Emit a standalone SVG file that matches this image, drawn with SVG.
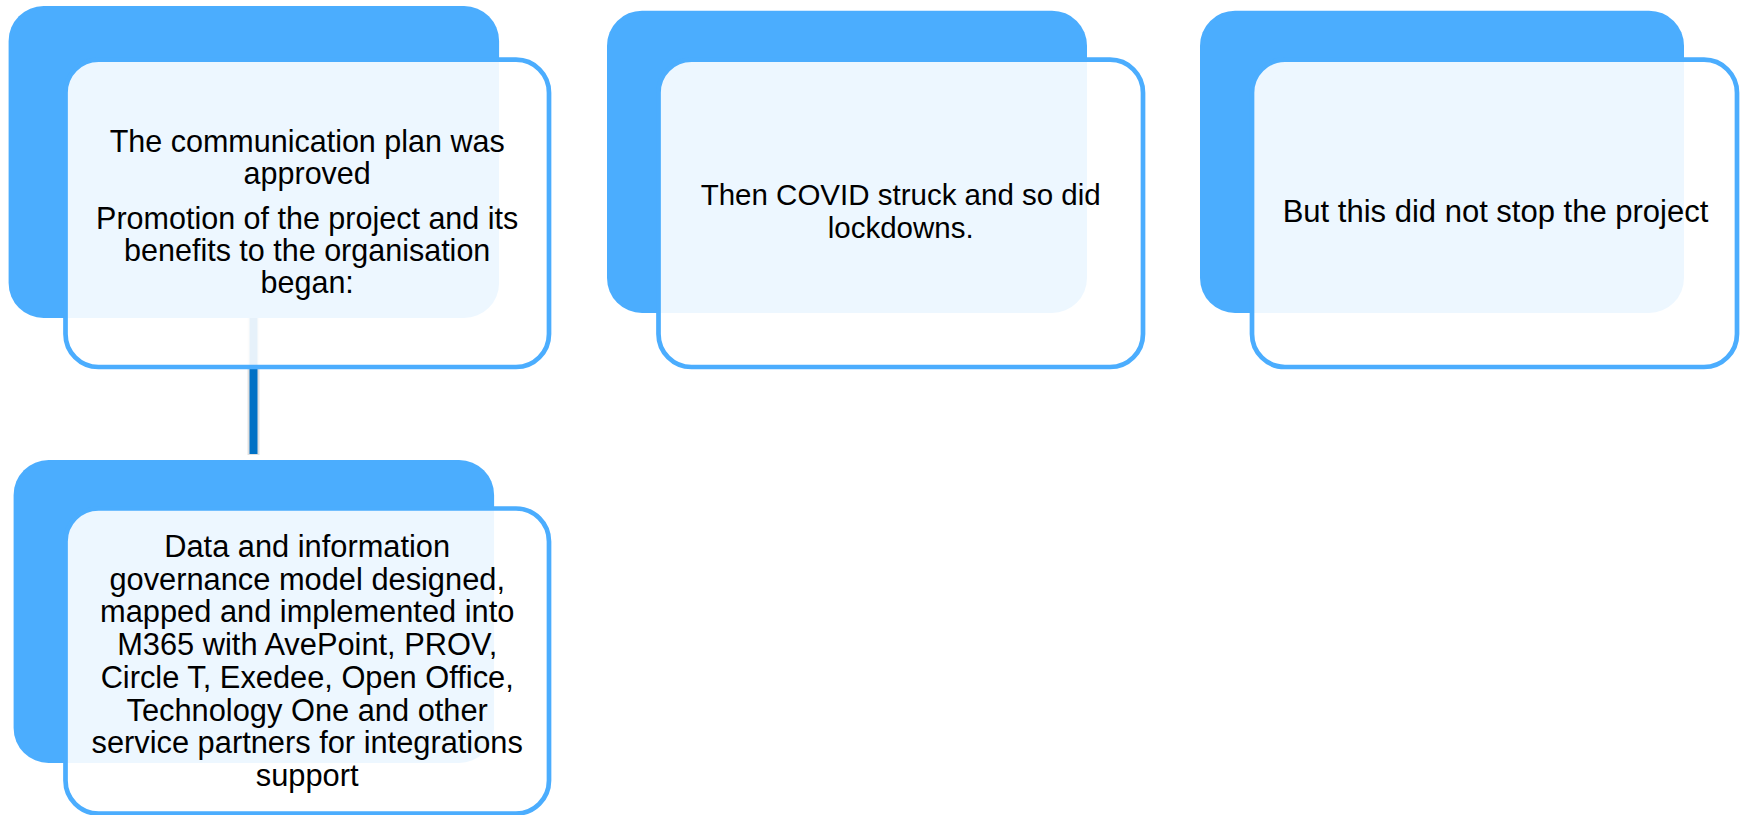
<svg xmlns="http://www.w3.org/2000/svg" width="1745" height="815" viewBox="0 0 1745 815">
<defs>
<style>
.back{fill:#4BADFE;}
.front{fill:#FFFFFF;fill-opacity:0.9;stroke:#4BADFE;stroke-width:4.7;}
.t{font-family:"Liberation Sans",Arial,sans-serif;fill:#000;text-anchor:middle;}
.conn{stroke:#0071C5;stroke-width:8;fill:none;}
.shadow{stroke:#000;stroke-opacity:0.12;stroke-width:12;fill:none;}
</style>
</defs>
<rect width="1745" height="815" fill="#FFFFFF"/>
<g id="connectors">
<line class="shadow" x1="253.5" y1="318" x2="253.5" y2="455"/>
<line class="conn" x1="253.5" y1="318" x2="253.5" y2="454"/>
</g>
<g id="node-plan">
<rect class="back" x="8.6" y="6" width="490.5" height="312" rx="35"/>
<rect class="front" x="65.5" y="59.7" width="483.5" height="307.3" rx="33"/>
<text class="t" font-size="30.5" x="307.2"><tspan x="307.2" y="152">The communication plan was</tspan><tspan x="307.2" y="183.5">approved</tspan><tspan x="307.2" y="229.3">Promotion of the project and its</tspan><tspan x="307.2" y="261">benefits to the organisation</tspan><tspan x="307.2" y="293">began:</tspan></text>
</g>
<g id="node-governance">
<rect class="back" x="13.6" y="460" width="480.5" height="303" rx="35"/>
<rect class="front" x="65.5" y="508.5" width="483.5" height="305" rx="33"/>
<text class="t" font-size="30.8" x="307.2"><tspan x="307.2" y="557">Data and information</tspan><tspan x="307.2" y="589.7">governance model designed,</tspan><tspan x="307.2" y="622.4">mapped and implemented into</tspan><tspan x="307.2" y="655.1">M365 with AvePoint, PROV,</tspan><tspan x="307.2" y="687.8">Circle T, Exedee, Open Office,</tspan><tspan x="307.2" y="720.5">Technology One and other</tspan><tspan x="307.2" y="753.2">service partners for integrations</tspan><tspan x="307.2" y="786">support</tspan></text>
</g>
<g id="node-covid">
<rect class="back" x="607" y="10.7" width="480" height="302.3" rx="35"/>
<rect class="front" x="658.5" y="59.7" width="484.5" height="307.3" rx="33"/>
<text class="t" font-size="29.5" x="900.7"><tspan x="900.7" y="205">Then COVID struck and so did</tspan><tspan x="900.7" y="238.3">lockdowns.</tspan></text>
</g>
<g id="node-continue">
<rect class="back" x="1200" y="10.7" width="484" height="302.3" rx="35"/>
<rect class="front" x="1252" y="59.7" width="485" height="307.3" rx="33"/>
<text class="t" font-size="31" x="1495.5"><tspan x="1495.5" y="221.7">But this did not stop the project</tspan></text>
</g>
</svg>
